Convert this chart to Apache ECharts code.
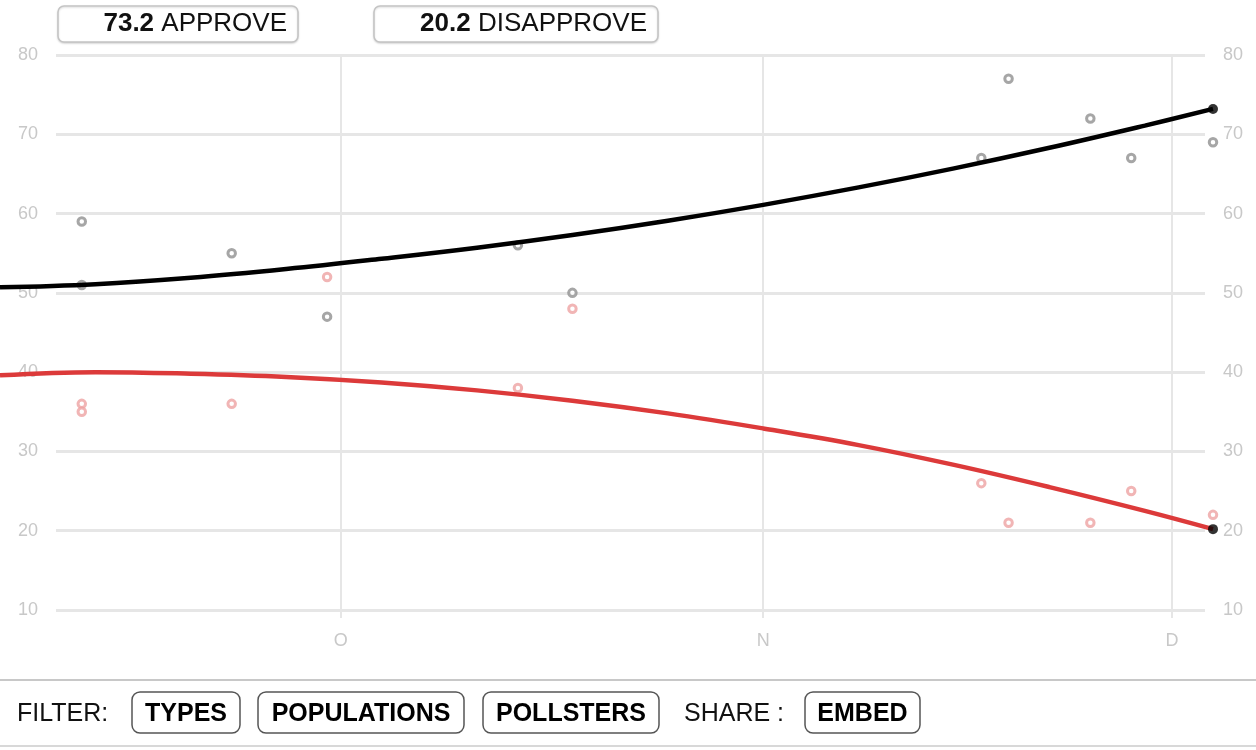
<!DOCTYPE html>
<html>
<head>
<meta charset="utf-8">
<script src="https://cdn.jsdelivr.net/npm/echarts@6/dist/echarts.min.js"></script>
<style>
  html, body { margin: 0; padding: 0; background: #fff; }
  #chart { width: 1256px; height: 750px; }
</style>
</head>
<body>
<div id="chart"></div>
<script>
// poll results (hollow dots)
var pollDates = ['2017-09-12', '2017-09-12', '2017-09-23', '2017-09-30', '2017-10-14', '2017-10-18',
                 '2017-11-17', '2017-11-19', '2017-11-25', '2017-11-28', '2017-12-04'];
var approvePolls = [59, 51, 55, 47, 56, 50, 67, 77, 72, 67, 69];
var disapprovePolls = [36, 35, 36, 52, 38, 48, 26, 21, 21, 25, 22];

// smoothed trend lines
var trendDates = ['2017-09-06', '2017-09-13', '2017-09-20', '2017-09-27', '2017-10-04', '2017-10-11', '2017-10-18',
                  '2017-10-25', '2017-11-01', '2017-11-08', '2017-11-15', '2017-11-22', '2017-11-29', '2017-12-04'];
var approveTrend = [50.7, 51.1, 51.9, 53.0, 54.3, 55.7, 57.3, 59.1, 61.1, 63.3, 65.7, 68.3, 71.1, 73.2];
var disapproveTrend = [39.6, 40.0, 39.8, 39.4, 38.7, 37.7, 36.4, 34.8, 32.9, 30.8, 28.3, 25.5, 22.5, 20.2];

// x axis month marks
var monthTicks = ['2017-10-01', '2017-11-01', '2017-12-01'];
var monthLetters = ['J', 'F', 'M', 'A', 'M', 'J', 'J', 'A', 'S', 'O', 'N', 'D'];
var xStart = '2017-09-06';
var xEnd = '2017-12-04';

var filterButtons = ['TYPES', 'POPULATIONS', 'POLLSTERS'];

var toTime = function(s){
	var p = s.split('-');
	return new Date(+p[0], +p[1] - 1, +p[2]).getTime();
};
var pairs = function(dates, vals){
	var out = [];
	for (var i = 0; i < vals.length; i++) {
		out.push([toTime(dates[i]), vals[i]]);
	}
	return out;
};

var lastA = approveTrend[approveTrend.length - 1];
var lastD = disapproveTrend[disapproveTrend.length - 1];
var lastT = toTime(trendDates[trendDates.length - 1]);

var gridTop = 55, gridBottom = 140;
var labelColor = '#c8c8c8';
var font = 'Liberation Sans, Arial, sans-serif';

var myChart = echarts.init(document.getElementById('chart'));

// header boxes + filter bar
var graphics = [
	{ type: 'rect', shape: { x: 58, y: 6, width: 240, height: 36, r: 6 },
	  style: { fill: '#fff', stroke: '#c4c4c4', lineWidth: 1.5, shadowBlur: 2, shadowColor: 'rgba(0,0,0,0.15)', shadowOffsetY: 1 } },
	{ type: 'text', x: 287, y: 24,
	  style: { text: '{b|' + lastA.toFixed(1) + '} APPROVE', align: 'right', verticalAlign: 'middle',
	           font: '26px ' + font, fill: '#111',
	           rich: { b: { fontWeight: 'bold', fontSize: 26, fontFamily: font, fill: '#111' } } } },
	{ type: 'rect', shape: { x: 374, y: 6, width: 284, height: 36, r: 6 },
	  style: { fill: '#fff', stroke: '#c4c4c4', lineWidth: 1.5, shadowBlur: 2, shadowColor: 'rgba(0,0,0,0.15)', shadowOffsetY: 1 } },
	{ type: 'text', x: 647, y: 24,
	  style: { text: '{b|' + lastD.toFixed(1) + '} DISAPPROVE', align: 'right', verticalAlign: 'middle',
	           font: '26px ' + font, fill: '#111',
	           rich: { b: { fontWeight: 'bold', fontSize: 26, fontFamily: font, fill: '#111' } } } },
	{ type: 'rect', shape: { x: 0, y: 679, width: 1256, height: 2 }, style: { fill: '#c8c8c8' } },
	{ type: 'rect', shape: { x: 0, y: 745, width: 1256, height: 2 }, style: { fill: '#d8d8d8' } },
	{ type: 'text', x: 17, y: 714,
	  style: { text: 'FILTER:', verticalAlign: 'middle', font: '25px ' + font, fill: '#111' } },
	{ type: 'text', x: 684, y: 714,
	  style: { text: 'SHARE :', verticalAlign: 'middle', font: '25px ' + font, fill: '#111' } }
];
var btnBoxes = [[132, 108], [258, 206], [483, 176]];
var addButton = function(label, x, w){
	graphics.push({ type: 'rect', shape: { x: x, y: 692, width: w, height: 41, r: 8 },
	                style: { fill: '#fff', stroke: '#555', lineWidth: 1.5 } });
	graphics.push({ type: 'text', x: x + w / 2, y: 714,
	                style: { text: label, align: 'center', verticalAlign: 'middle',
	                         font: 'bold 25px ' + font, fill: '#000' } });
};
for (var i = 0; i < filterButtons.length; i++) {
	addButton(filterButtons[i], btnBoxes[i][0], btnBoxes[i][1]);
}
addButton('EMBED', 805, 115);

var option = {
	animation: false,
	graphic: graphics,
	grid: [
		{ left: 0, right: 43, top: gridTop, bottom: gridBottom },
		{ left: 56, right: 51, top: gridTop, bottom: gridBottom }
	],
	xAxis: [
		{
			type: 'value', gridIndex: 0,
			min: toTime(xStart), max: toTime(xEnd),
			axisLine: { show: false },
			axisTick: { show: true, length: 8, lineStyle: { color: '#e6e6e6', width: 2 },
			            customValues: monthTicks.map(toTime) },
			axisLabel: { customValues: monthTicks.map(toTime), margin: 22, fontSize: 18,
			             color: labelColor, fontFamily: font,
			             formatter: function(v){ return monthLetters[new Date(v).getMonth()]; } },
			splitLine: { show: true, lineStyle: { color: '#e6e6e6', width: 2 } }
		},
		{ type: 'value', gridIndex: 1, min: 0, max: 1, show: false }
	],
	yAxis: [
		{ type: 'value', gridIndex: 0, min: 10, max: 80, interval: 10, show: false },
		{
			type: 'value', gridIndex: 1, min: 10, max: 80, interval: 10, position: 'left',
			axisLine: { show: false }, axisTick: { show: false },
			axisLabel: { margin: 18, fontSize: 18, color: labelColor, fontFamily: font },
			splitLine: { lineStyle: { color: '#e6e6e6', width: 3 } }
		},
		{
			type: 'value', gridIndex: 1, min: 10, max: 80, interval: 10, position: 'right',
			axisLine: { show: false }, axisTick: { show: false },
			axisLabel: { margin: 18, fontSize: 18, color: labelColor, fontFamily: font },
			splitLine: { show: false }
		}
	],
	series: [
		{
			name: 'approve polls', type: 'scatter', xAxisIndex: 0, yAxisIndex: 0, clip: false,
			data: pairs(pollDates, approvePolls), symbol: 'circle', symbolSize: 7.5,
			itemStyle: { color: '#fff', borderColor: '#909090', borderWidth: 3 }
		},
		{
			name: 'disapprove polls', type: 'scatter', xAxisIndex: 0, yAxisIndex: 0, clip: false,
			data: pairs(pollDates, disapprovePolls), symbol: 'circle', symbolSize: 7.5,
			itemStyle: { color: '#fff', borderColor: '#eea3a3', borderWidth: 3 }
		},
		{
			name: 'approve', type: 'line', xAxisIndex: 0, yAxisIndex: 0, smooth: 0.4,
			showSymbol: false, symbol: 'none', clip: false,
			data: pairs(trendDates, approveTrend),
			lineStyle: { color: '#000', width: 4.5 }
		},
		{
			name: 'disapprove', type: 'line', xAxisIndex: 0, yAxisIndex: 0, smooth: 0.4,
			showSymbol: false, symbol: 'none', clip: false,
			data: pairs(trendDates, disapproveTrend),
			lineStyle: { color: '#dc3a3a', width: 4.5 }
		},
		{
			name: 'latest', type: 'scatter', xAxisIndex: 0, yAxisIndex: 0, clip: false, z: 5,
			data: [[lastT, lastA], [lastT, lastD]], symbol: 'circle', symbolSize: 10,
			itemStyle: { color: '#000' }
		}
	]
};
myChart.setOption(option);
</script>
</body>
</html>
